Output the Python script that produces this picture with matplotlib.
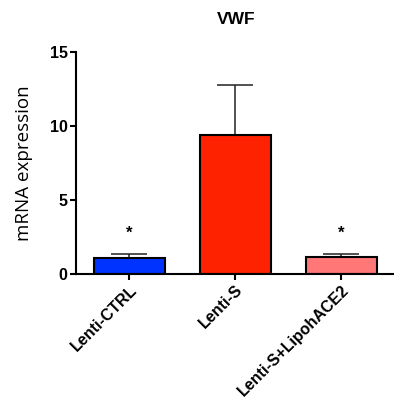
import matplotlib
matplotlib.use("Agg")
from matplotlib import pyplot as plt
import numpy as np

groups = ['Lenti-CTRL', 'Lenti-S', 'Lenti-S+LipohACE2']
means = [1.1, 9.4, 1.17]
sem = [0.27, 3.37, 0.2]
colors = ['#0033ff', '#ff2200', '#ff7777']
stars = ['*', '', '*']
yticks = [0, 5, 10, 15]

plt.rcParams['font.family'] = ['Liberation Sans', 'DejaVu Sans']

fig = plt.figure(figsize=(3.94, 4.07), dpi=100)
ax = fig.add_axes([0.193, 0.327, 0.807, 0.545])

x = np.arange(len(groups))
ax.bar(x, means, width=0.67, color=colors, edgecolor='black', linewidth=1.5, zorder=2)
ax.errorbar(x, means, yerr=[np.zeros(len(means)), sem], fmt='none',
            ecolor='#222222', elinewidth=1.1, capsize=13, capthick=1.1, zorder=1)

# significance marks above the bars
for xi, m, s, st in zip(x, means, sem, stars):
    if st:
        ax.text(xi, m + s + 1.4, st, ha='center', va='center',
                fontsize=12, fontweight='bold')

ax.set_xlim(-0.5, 2.5)
ax.set_ylim(0, 15)
ax.set_yticks(yticks)
ax.set_yticklabels([str(t) for t in yticks], fontsize=11.5, fontweight='bold')
ax.set_xticks(x)
ax.set_xticklabels(groups, rotation=45, ha='right', va='top',
                   rotation_mode='anchor', fontsize=11.5, fontweight='bold')

for side in ['top', 'right']:
    ax.spines[side].set_visible(False)
for side in ['left', 'bottom']:
    ax.spines[side].set_linewidth(1.5)
ax.tick_params(axis='both', width=1.5, length=4, pad=2)

ax.set_ylabel('mRNA expression', fontsize=13.5, family=['Open Sans', 'DejaVu Sans'])
ax.yaxis.set_label_coords(-0.135, 0.5)

fig.text(0.599, 0.951, 'VWF', ha='center', va='center', fontsize=12.5, fontweight='bold')

fig.savefig('out.png', dpi=100)
